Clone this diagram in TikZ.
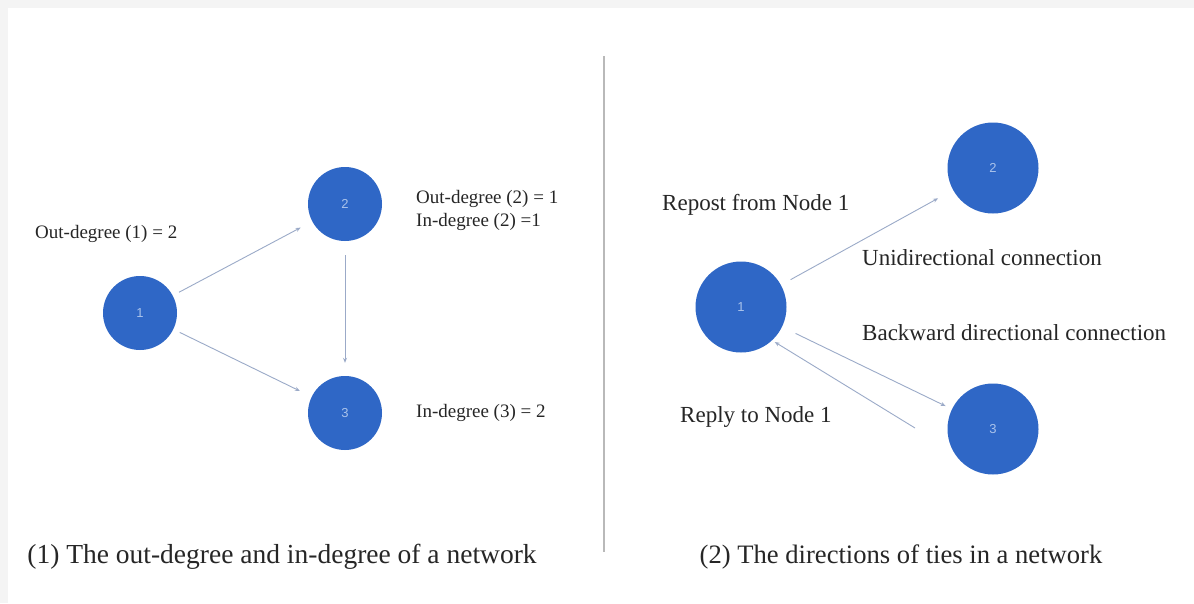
\documentclass[tikz,border=0pt]{standalone}
\usepackage{fontspec}
\setmainfont{Liberation Serif}
\newfontfamily\numfont{Liberation Sans}
\usetikzlibrary{arrows.meta}
\definecolor{nodeblue}{RGB}{47,103,198}
\definecolor{tiegray}{RGB}{155,170,200}
\definecolor{numtxt}{RGB}{170,195,235}
\tikzset{
  vert/.style={circle, fill=nodeblue, draw=none, minimum size=74pt, inner sep=0pt, font=\numfont\fontsize{13}{13}\selectfont, text=numtxt},
  bigvert/.style={vert, minimum size=91pt},
  tie/.style={draw=tiegray, line width=0.9pt, -{Stealth[length=5pt,width=4pt]}},
  lbl/.style={draw=none, inner sep=0pt, anchor=west, font=\fontsize{19}{22}\selectfont, text=black!85},
  rlbl/.style={lbl, font=\fontsize{23}{26}\selectfont},
  capt/.style={draw=none, inner sep=0pt, font=\fontsize{27.5}{30}\selectfont, text=black!85}
}
\begin{document}
\begin{tikzpicture}[x=1pt,y=-1pt]
             \useasboundingbox (0,0) rectangle (1194,603);
             \fill[white] (0,0) rectangle (1194,603);
             \fill[gray!9] (0,0) rectangle (8,603);
             \fill[gray!9] (0,0) rectangle (1194,8);

             % left: out-degree and in-degree
             \node[vert] (l1) at (140, 313) {1};
             \node[vert] (l2) at (345, 204) {2};
             \node[vert] (l3) at (345, 413) {3};
             \draw[tie, shorten <=7pt, shorten >=13pt] (l1) -- (l2);
             \draw[tie, shorten <=7pt, shorten >=13pt] (l1) -- (l3);
             \draw[tie, shorten <=14pt, shorten >=13pt] (l2) -- (l3);
             \node[lbl] (outone) at (35, 234) {Out-degree (1) = 2};
             \node[lbl] (outtwo) at (416, 199) {Out-degree (2) = 1};
             \node[lbl] (intwo) at (416, 222) {In-degree (2) =1};
             \node[lbl] (inthree) at (416, 413) {In-degree (3) = 2};
             \node[capt] (captone) at (282, 557) {(1) The out-degree and in-degree of a network};

             \draw[gray!55, line width=2pt] (604, 56) -- (604, 552);

             % right: directions of ties
             \node[bigvert] (r1) at (741, 307) {1};
             \node[bigvert] (r2) at (993, 168) {2};
             \node[bigvert] (r3) at (993, 429) {3};
             \coordinate (replystart) at (915, 428);
             \draw[tie, shorten <=11pt, shorten >=17pt] (r1) -- (r2);
             \draw[tie, shorten <=15pt, shorten >=7pt] (r1) -- (r3);
             \draw[tie, shorten >=3pt] (replystart) -- (r1.-47);
             \node[rlbl] (repost) at (662, 205) {Repost from Node 1};
             \node[rlbl] (uni) at (862, 258) {Unidirectional connection};
             \node[rlbl] (back) at (862, 333) {Backward directional connection};
             \node[rlbl] (reply) at (680, 417) {Reply to Node 1};
             \node[capt, font=\fontsize{26.6}{30}\selectfont] (capttwo) at (901, 557) {(2) The directions of ties in a network};
\end{tikzpicture}
\end{document}
